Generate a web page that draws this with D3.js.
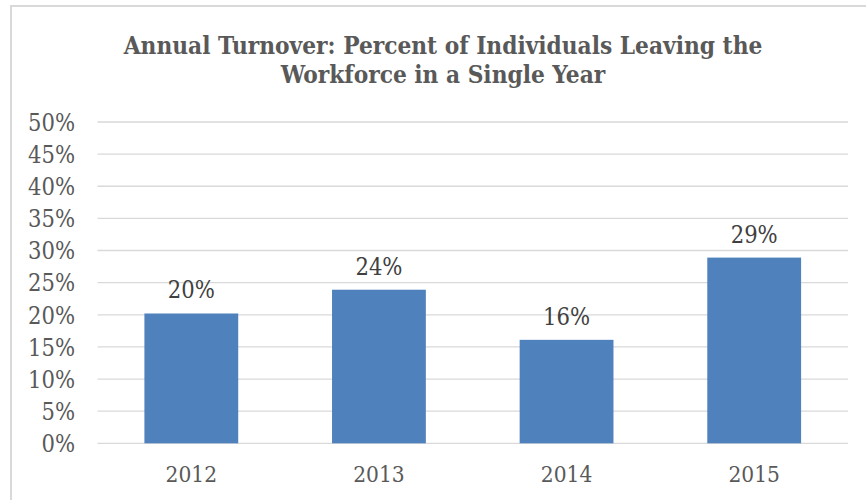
<!DOCTYPE html>
<html>
<head>
<meta charset="utf-8">
<script src="https://cdn.jsdelivr.net/npm/d3@7"></script>
<style>
  html, body { margin: 0; padding: 0; background: #fff; }
  svg { display: block; }
</style>
</head>
<body>
<svg id="chart" width="866" height="500"></svg>
<script>
const categories = ["2012", "2013", "2014", "2015"];
const values = [0.202, 0.239, 0.161, 0.289];
const labels = ["20%", "24%", "16%", "29%"];
const yTicks = [0, 0.05, 0.10, 0.15, 0.20, 0.25, 0.30, 0.35, 0.40, 0.45, 0.50];
const titleLines = ["Annual Turnover: Percent of Individuals Leaving the", "Workforce in a Single Year"];

const svg = d3.select("#chart");
const font = "'DejaVu Serif Condensed', 'DejaVu Serif', serif";
const margin = { left: 97.5, right: 866 - 848, top: 122, bottom: 500 - 443.3 };

// chart border
svg.append("rect")
  .attr("x", 11).attr("y", 6)
  .attr("width", 900).attr("height", 600)
  .attr("fill", "none").attr("stroke", "#d9d9d9").attr("stroke-width", 2);

const x = d3.scaleBand().domain(categories).range([margin.left, 848]).paddingInner(0.5).paddingOuter(0.25);
const y = d3.scaleLinear().domain([0, 0.5]).range([443.3, 122]);

// gridlines
svg.append("g").selectAll("line").data(yTicks).join("line")
  .attr("x1", margin.left).attr("x2", 848)
  .attr("y1", d => y(d)).attr("y2", d => y(d))
  .attr("stroke", "#d9d9d9").attr("stroke-width", 1.3);

// y axis labels
const yAxis = d3.axisLeft(y).tickValues(yTicks).tickFormat(d3.format(".0%")).tickSize(0).tickPadding(0);
const gy = svg.append("g").attr("transform", "translate(75,0)").call(yAxis);
gy.select(".domain").remove();
gy.selectAll("text").attr("font-family", font).attr("font-size", 23.5).attr("fill", "#595959").attr("dy", "0.35em");

// bars
svg.append("g").selectAll("rect").data(categories).join("rect")
  .attr("x", d => x(d)).attr("width", x.bandwidth())
  .attr("y", (d, i) => y(values[i])).attr("height", (d, i) => y(0) - y(values[i]))
  .attr("fill", "#4f81bd");

// x axis labels
const xAxis = d3.axisBottom(x).tickSize(0).tickPadding(0);
const gx = svg.append("g").attr("transform", "translate(0,482)").call(xAxis);
gx.select(".domain").remove();
gx.selectAll("text").attr("font-family", font).attr("font-size", 22.5).attr("fill", "#595959").attr("dy", 0);

// data labels
svg.append("g").selectAll("text").data(categories).join("text")
  .attr("x", d => x(d) + x.bandwidth() / 2)
  .attr("y", (d, i) => y(values[i]) - 15)
  .attr("text-anchor", "middle")
  .attr("font-family", font).attr("font-size", 23.5).attr("fill", "#404040")
  .text((d, i) => labels[i]);

// title
svg.append("g").selectAll("text").data(titleLines).join("text")
  .attr("x", 443).attr("y", (d, i) => 54 + i * 29)
  .attr("text-anchor", "middle")
  .attr("font-family", font).attr("font-weight", "bold").attr("font-size", 24.2).attr("fill", "#595959")
  .text(d => d);
</script>
</body>
</html>
